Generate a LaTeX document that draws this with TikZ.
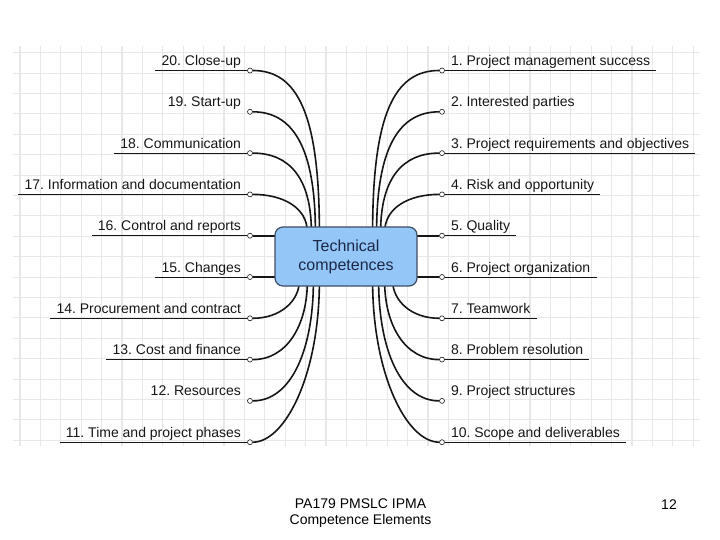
\documentclass[tikz,border=0pt]{standalone}
\usepackage{fontspec}
\setmainfont{Liberation Sans}
\usetikzlibrary{positioning,calc,backgrounds}
\definecolor{gridcol}{RGB}{230,233,230}
\definecolor{hubfill}{RGB}{148,198,248}
\definecolor{hubdraw}{RGB}{62,78,102}
\definecolor{hubtext}{RGB}{28,40,72}
\definecolor{inkcol}{RGB}{22,22,22}

\begin{document}
\begin{tikzpicture}[x=1pt, y=-1pt,
  every node/.style={font=\fontsize{14}{16}\selectfont\frenchspacing, text=inkcol},
  %% central topic — light blue rounded box
  hub/.style={
    draw=hubdraw, fill=hubfill, line width=1.2pt,
    rounded corners=8pt,
    minimum width=142pt, minimum height=59pt,
    align=center, inner sep=2pt,
    font=\fontsize{16}{19}\selectfont, text=hubtext
  },
  %% small open end point of each branch
  dot/.style={
    circle, draw=inkcol, fill=white, line width=0.6pt,
    minimum size=5pt, inner sep=0pt
  },
  %% branch label
  lbl/.style={inner xsep=6pt, inner ysep=0pt},
  %% branch curves and underlines
  twig/.style={line width=1.6pt, inkcol},
  uline/.style={line width=1pt, inkcol},
  gridline/.style={gridcol, line width=1.1pt},
]
\useasboundingbox (0,0) rectangle (720,540);

%%── Squared paper behind the map ─────────────────────────────────────────────
\begin{pgfonlayer}{background}
  \foreach \k in {0,...,33}
    \draw[gridline] ({20+20.4*\k},46) -- ({20+20.4*\k},446);
  \foreach \k in {0,...,19}
    \draw[gridline] (13,{52.7+20.4*\k}) -- (700,{52.7+20.4*\k});
\end{pgfonlayer}

%%── Central topic ────────────────────────────────────────────────────────────
\node[hub] (tc) at (346,256.5) {Technical\\competences};

%%── Left branches (20 … 11) ──────────────────────────────────────────────────
\foreach \n/\txt/\ul [count=\i from 0] in
  {20/Close-up/1, 19/Start-up/0, 18/Communication/1,
   17/Information and documentation/1, 16/Control and reports/1,
   15/Changes/1, 14/Procurement and contract/1, 13/Cost and finance/1,
   12/Resources/0, 11/Time and project phases/1}
{
  \node[dot] (d\n) at (250,{70.5+41.3*\i}) {};
  \node[lbl, anchor=base east, yshift=5pt] (t\n) at (d\n.west) {\n. \txt};
  \ifnum\ul=1 \draw[uline] (d\n.west) -- (d\n.west -| t\n.west); \fi
}

%%── Right branches (1 … 10) ──────────────────────────────────────────────────
\foreach \n/\txt/\ul [count=\i from 0] in
  {1/Project management success/1, 2/Interested parties/0,
   3/Project requirements and objectives/1, 4/Risk and opportunity/1,
   5/Quality/1, 6/Project organization/1, 7/Teamwork/1,
   8/Problem resolution/1, 9/Project structures/0,
   10/Scope and deliverables/1}
{
  \node[dot] (d\n) at (442,{70.5+41.3*\i}) {};
  \node[lbl, anchor=base west, yshift=5pt] (t\n) at (d\n.east) {\n. \txt};
  \ifnum\ul=1 \draw[uline] (d\n.east) -- (d\n.east -| t\n.east); \fi
}

%%── Curves into the central box ──────────────────────────────────────────────
\begin{pgfonlayer}{background}
  %% upper bundles
  \foreach \s/\ox/\cx/\cy in {20/45/44/120, 19/41/40/85, 18/37/36/55, 17/33/30/25}
    \draw[twig] (d\s.east) .. controls +(\cx,0) and +(0,-\cy)
      .. ([xshift=\ox pt, yshift=-6pt]tc.north west);
  \foreach \s/\ox/\cx/\cy in {1/45/44/120, 2/41/40/85, 3/37/36/55, 4/33/30/25}
    \draw[twig] (d\s.west) .. controls +(-\cx,0) and +(0,-\cy)
      .. ([xshift=-\ox pt, yshift=-6pt]tc.north east);
  %% lower bundles
  \foreach \s/\ox/\cx/\cy in {14/25/28/20, 13/33/34/45, 12/39/38/70, 11/45/32/95}
    \draw[twig] (d\s.east) .. controls +(\cx,0) and +(0,\cy)
      .. ([xshift=\ox pt, yshift=6pt]tc.south west);
  \foreach \s/\ox/\cx/\cy in {7/25/28/20, 8/33/34/45, 9/39/38/70, 10/45/32/95}
    \draw[twig] (d\s.west) .. controls +(-\cx,0) and +(0,\cy)
      .. ([xshift=-\ox pt, yshift=6pt]tc.south east);
  %% straight ones at the sides
  \foreach \s in {16,15}
    \draw[twig] (d\s.east) -- ([xshift=6pt]tc.west |- d\s);
  \foreach \s in {5,6}
    \draw[twig] (d\s.west) -- ([xshift=-6pt]tc.east |- d\s);
\end{pgfonlayer}

%%── Footer ───────────────────────────────────────────────────────────────────
\node[align=center, anchor=north, inner sep=0pt, text=black] (foot)
  at (360.5,499) {PA179 PMSLC IPMA\\Competence Elements};
\node[anchor=base, text=black] (pg) at (669,509) {12};

\end{tikzpicture}
\end{document}
